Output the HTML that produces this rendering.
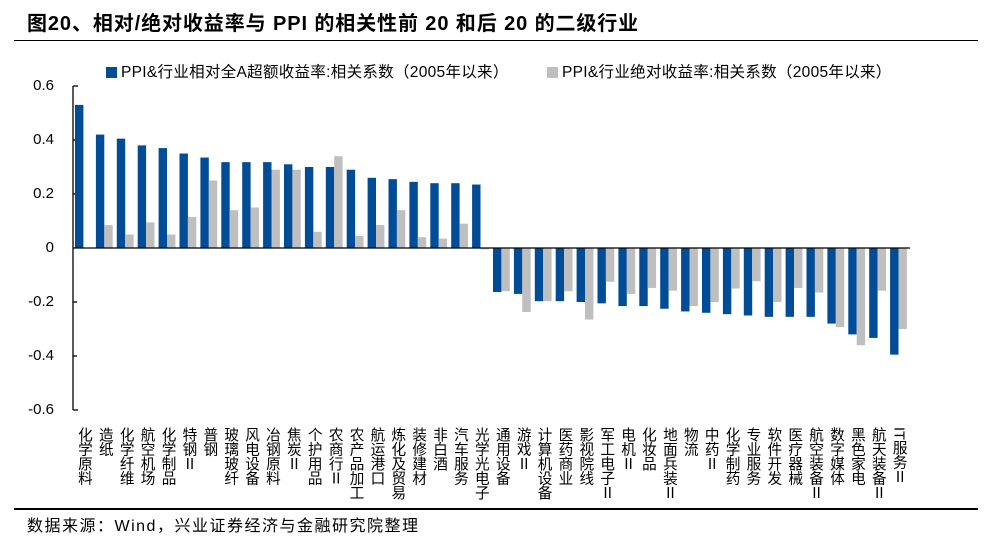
<!DOCTYPE html>
<html><head><meta charset="utf-8"><style>
body{margin:0;width:984px;height:543px;background:#fff;position:relative;overflow:hidden;font-family:"Liberation Sans","Noto Sans CJK SC",sans-serif;color:#000}
.t{position:absolute;left:27px;top:7px;font-size:20px;letter-spacing:0.9px;font-weight:bold;white-space:nowrap}
.hl{position:absolute;left:14px;width:964px;height:1.5px;background:#000}
.lg{position:absolute;top:60px;font-size:15.5px;letter-spacing:0.3px;white-space:nowrap}
.lg i{display:inline-block;width:11px;height:11px;margin-right:4px;vertical-align:-1px}
.yl{position:absolute;right:930px;font-size:15px;text-align:right;line-height:16px}
#labels{position:absolute;left:73px;top:427px;display:flex}
#labels div{width:20.9px;display:flex;justify-content:center}
#labels span{writing-mode:vertical-rl;font-size:14.6px;line-height:15px;font-family:"Liberation Sans","Noto Sans CJK SC",sans-serif}
.src{position:absolute;left:27px;top:512px;font-size:16px;letter-spacing:1.5px;white-space:nowrap}
</style></head><body>
<div class="t">图20、相对/绝对收益率与 PPI 的相关性前 20 和后 20 的二级行业</div>
<div class="hl" style="top:39.5px"></div>
<div class="lg" style="left:106px"><i style="background:#004C97"></i>PPI&amp;行业相对全A超额收益率:相关系数（2005年以来）</div>
<div class="lg" style="left:547px"><i style="background:#BFBFBF"></i>PPI&amp;行业绝对收益率:相关系数（2005年以来）</div>
<div class="yl" style="top:78px">0.6</div>
<div class="yl" style="top:132px">0.4</div>
<div class="yl" style="top:186px">0.2</div>
<div class="yl" style="top:240px">0</div>
<div class="yl" style="top:294px">-0.2</div>
<div class="yl" style="top:348px">-0.4</div>
<div class="yl" style="top:402px">-0.6</div>
<svg id="ch" width="984" height="543" style="position:absolute;left:0;top:0">
<line x1="73" y1="86" x2="73" y2="410" stroke="#000" stroke-width="1.3"/>
<g stroke="#000" stroke-width="1.3">
<line x1="73" y1="86" x2="78" y2="86"/><line x1="73" y1="140" x2="77" y2="140"/><line x1="73" y1="194" x2="77" y2="194"/><line x1="73" y1="302" x2="77" y2="302"/><line x1="73" y1="356" x2="77" y2="356"/><line x1="73" y1="410" x2="78" y2="410"/>
</g>
<g id="bars"></g>
<line x1="73" y1="248" x2="910" y2="248" stroke="#000" stroke-width="1.3"/>
</svg>
<div id="labels">
<div><span>化学原料</span></div><div><span>造纸</span></div><div><span>化学纤维</span></div><div><span>航空机场</span></div><div><span>化学制品</span></div><div><span>特钢Ⅱ</span></div><div><span>普钢</span></div><div><span>玻璃玻纤</span></div><div><span>风电设备</span></div><div><span>冶钢原料</span></div><div><span>焦炭Ⅱ</span></div><div><span>个护用品</span></div><div><span>农商行Ⅱ</span></div><div><span>农产品加工</span></div><div><span>航运港口</span></div><div><span>炼化及贸易</span></div><div><span>装修建材</span></div><div><span>非白酒</span></div><div><span>汽车服务</span></div><div><span>光学光电子</span></div>
<div><span>通用设备</span></div><div><span>游戏Ⅱ</span></div><div><span>计算机设备</span></div><div><span>医药商业</span></div><div><span>影视院线</span></div><div><span>军工电子Ⅱ</span></div><div><span>电机Ⅱ</span></div><div><span>化妆品</span></div><div><span>地面兵装Ⅱ</span></div><div><span>物流</span></div><div><span>中药Ⅱ</span></div><div><span>化学制药</span></div><div><span>专业服务</span></div><div><span>软件开发</span></div><div><span>医疗器械</span></div><div><span>航空装备Ⅱ</span></div><div><span>数字媒体</span></div><div><span>黑色家电</span></div><div><span>航天装备Ⅱ</span></div><div><span>IT服务Ⅱ</span></div>
</div>
<div class="hl" style="top:508px"></div>
<div class="src">数据来源：Wind，兴业证券经济与金融研究院整理</div>
<script>
var b=[0.53,0.42,0.405,0.38,0.37,0.35,0.335,0.318,0.318,0.318,0.31,0.30,0.30,0.29,0.26,0.255,0.245,0.24,0.24,0.235,-0.163,-0.17,-0.197,-0.197,-0.2,-0.205,-0.215,-0.215,-0.225,-0.235,-0.24,-0.245,-0.25,-0.255,-0.255,-0.255,-0.28,-0.32,-0.333,-0.395];
var g=[0,0.085,0.05,0.095,0.05,0.115,0.25,0.14,0.15,0.29,0.29,0.06,0.34,0.045,0.085,0.14,0.04,0.035,0.09,-0.005,-0.16,-0.237,-0.197,-0.16,-0.265,-0.125,-0.17,-0.148,-0.158,-0.215,-0.2,-0.15,-0.123,-0.2,-0.148,-0.165,-0.293,-0.36,-0.158,-0.3];
var s='';function r(x,v,c){var h=Math.abs(v)*270,y=v>=0?248-h:248;s+='<rect x="'+x.toFixed(2)+'" y="'+y.toFixed(2)+'" width="8.4" height="'+h.toFixed(2)+'" fill="'+c+'"/>';}
for(var i=0;i<40;i++){var x=75+20.9*i;r(x,b[i],'#004C97');r(x+8.4,g[i],'#BFBFBF');}
document.getElementById('bars').innerHTML=s;
</script>
</body></html>
